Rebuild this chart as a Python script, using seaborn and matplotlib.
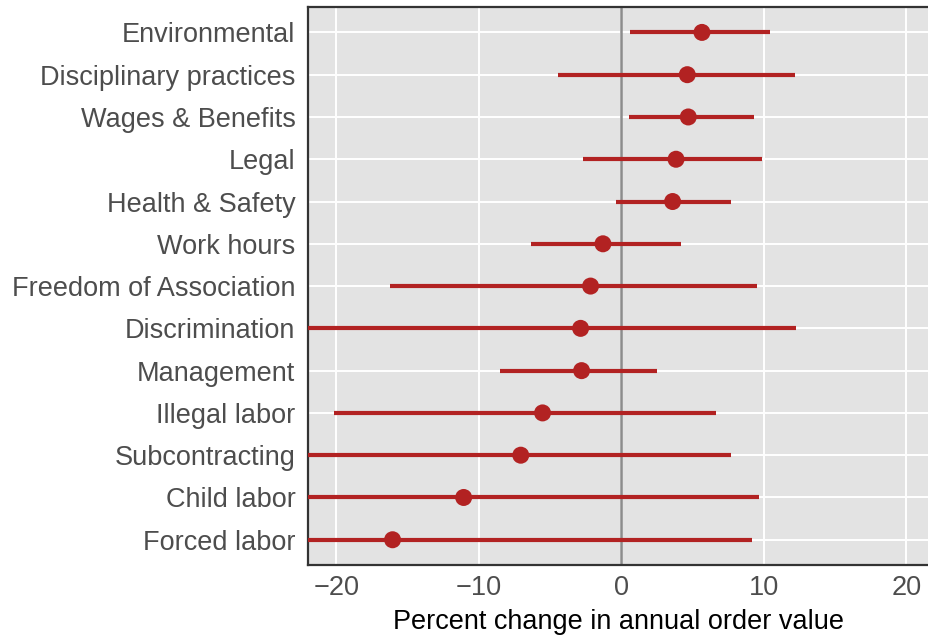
import matplotlib
matplotlib.use("Agg")
import matplotlib.pyplot as plt
import seaborn as sns
import pandas as pd

categories = [
    "Environmental", "Disciplinary practices", "Wages & Benefits", "Legal",
    "Health & Safety", "Work hours", "Freedom of Association", "Discrimination",
    "Management", "Illegal labor", "Subcontracting", "Child labor", "Forced labor",
]
estimate = [5.66, 4.63, 4.70, 3.84, 3.60, -1.29, -2.16, -2.86, -2.79, -5.53, -7.06, -11.07, -16.06]
ci_low = [0.58, -4.42, 0.54, -2.67, -0.38, -6.37, -16.27, -24.5, -8.55, -20.16, -23.5, -29.0, -36.0]
ci_high = [10.46, 12.19, 9.31, 9.90, 7.72, 4.19, 9.50, 12.24, 2.48, 6.62, 7.67, 9.65, 9.19]
x_ticks = [-20, -10, 0, 10, 20]

df = pd.DataFrame({"category": categories, "estimate": estimate,
                   "low": ci_low, "high": ci_high})

sns.set_theme(style="darkgrid")
plt.rcParams["font.family"] = ["Liberation Sans", "DejaVu Sans"]

fig = plt.figure(figsize=(9.29, 6.4), dpi=100)
ax = fig.add_axes([0.3315, 0.117, 0.6685, 0.872])
ax.set_facecolor("#E3E3E3")

red = "#B22222"
ypos = list(range(len(categories)))
ax.axvline(0, color="#8C8C8C", lw=1.8, zorder=2)
ax.hlines(ypos, df["low"], df["high"], color=red, lw=3.0, zorder=3)
sns.scatterplot(data=df, x="estimate", y="category", color=red, s=150,
                edgecolor="none", zorder=4, ax=ax, legend=False)

ax.set_xlim(-22, 21.6)
ax.set_ylim(len(categories) - 0.4, -0.6)
ax.set_xticks(x_ticks)
ax.set_xticklabels(["\u221220", "\u221210", "0", "10", "20"])
ax.grid(True, color="white", lw=1.4)
ax.set_axisbelow(True)
ax.tick_params(axis="both", length=0, labelsize=19.5, colors="#4D4D4D")
ax.tick_params(axis="y", pad=9)
ax.tick_params(axis="x", pad=7)
ax.set_ylabel("")
ax.set_xlabel("Percent change in annual order value", fontsize=19.5, color="black", labelpad=6)

for side in ["left", "top", "bottom"]:
    ax.spines[side].set_visible(True)
    ax.spines[side].set_color("#333333")
    ax.spines[side].set_linewidth(1.6)
ax.spines["right"].set_visible(False)

fig.savefig("out.png", dpi=100)
